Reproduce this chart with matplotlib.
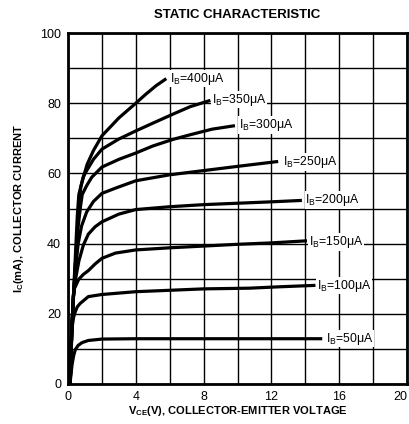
import matplotlib
matplotlib.use('Agg')
import matplotlib.pyplot as plt
from matplotlib.ticker import MultipleLocator

plt.rcParams['font.family'] = ['Liberation Sans', 'DejaVu Sans']
plt.rcParams['mathtext.fontset'] = 'custom'
plt.rcParams['mathtext.rm'] = 'Liberation Sans'
plt.rcParams['mathtext.bf'] = 'Liberation Sans:bold'
plt.rcParams['mathtext.it'] = 'Liberation Sans:italic'

# base currents (uA) and curves
ib_values = [400, 350, 300, 250, 200, 150, 100, 50]

vce_400 = [0.13, 0.22, 0.32, 0.45, 0.55, 0.64, 0.84, 1.13, 1.5, 2, 3, 4, 4.6, 5.2, 5.8]
ic_400 = [0, 15, 25, 38, 48, 54, 57.8, 62.6, 66.5, 70.7, 75.8, 80, 82.6, 85, 87]

vce_350 = [0.13, 0.22, 0.32, 0.45, 0.6, 0.75, 0.9, 1.03, 1.5, 2, 3, 4, 5, 6.2, 7.2, 8.4]
ic_350 = [0, 15, 25, 35, 48, 56, 59, 60.2, 64, 66.9, 69.8, 72.1, 74.3, 76.9, 79, 80.8]

vce_300 = [0.13, 0.22, 0.32, 0.45, 0.6, 0.75, 0.84, 1.1, 1.4, 2, 3, 4, 5, 6.2, 7.2, 8.5, 9.85]
ic_300 = [0, 15, 25, 35, 45, 51, 54, 56.5, 58.9, 61.8, 64, 65.8, 67.8, 69.7, 71, 72.6, 73.6]

vce_250 = [0.13, 0.22, 0.32, 0.45, 0.6, 0.8, 1.1, 1.5, 2, 2.8, 4, 6, 8, 10, 12.4]
ic_250 = [0, 15, 25, 33, 40, 45, 49, 52, 54.3, 55.8, 57.9, 59.6, 60.8, 62, 63.4]

vce_200 = [0.13, 0.22, 0.32, 0.45, 0.64, 0.9, 1.2, 1.6, 2, 3, 4, 6, 8, 10, 12, 13.8]
ic_200 = [0, 15, 25, 30, 35, 39.5, 42.7, 44.8, 46.2, 48.4, 49.7, 50.5, 51.1, 51.5, 51.9, 52.3]

vce_150 = [0.13, 0.2, 0.28, 0.36, 0.63, 0.9, 1.2, 1.6, 2, 2.8, 4, 6, 8, 10, 12, 14.1]
ic_150 = [0, 12, 22, 27, 29.8, 31.2, 32.3, 34.2, 35.8, 37.3, 38.2, 38.8, 39.3, 39.8, 40.2, 40.8]

vce_100 = [0.12, 0.18, 0.24, 0.33, 0.43, 0.55, 0.73, 1.2, 2, 4, 6, 8, 10.7, 12.5, 14.6]
ic_100 = [0, 8, 16, 19, 20.6, 22, 23, 24.9, 25.5, 26.3, 26.7, 27.1, 27.3, 27.7, 28.1]

vce_50 = [0.12, 0.18, 0.24, 0.33, 0.43, 0.6, 0.83, 1.2, 2, 4, 8, 12, 15]
ic_50 = [0, 3, 5.5, 8, 9.8, 11, 11.8, 12.4, 12.8, 12.9, 12.9, 12.9, 12.9]

curves_v = [vce_400, vce_350, vce_300, vce_250, vce_200, vce_150, vce_100, vce_50]
curves_i = [ic_400, ic_350, ic_300, ic_250, ic_200, ic_150, ic_100, ic_50]

# where each I_B label sits (V, mA)
label_x = [6.0, 8.5, 10.1, 12.7, 14.0, 14.2, 14.7, 15.2]
label_y = [87, 81, 73.8, 63.3, 52.4, 40.4, 28, 12.9]

x_ticks = [0, 4, 8, 12, 16, 20]
y_ticks = [0, 20, 40, 60, 80, 100]

fig = plt.figure(figsize=(4.09, 4.24), dpi=100)
ax = fig.add_axes([68 / 409, 40 / 424, 339 / 409, 351 / 424])

for v, i in zip(curves_v, curves_i):
    ax.plot(v, i, color='black', lw=2.3, solid_capstyle='butt', zorder=3)

for ib, lx, ly in zip(ib_values, label_x, label_y):
    ax.text(lx, ly, 'I$_\\mathregular{B}$=%dμA' % ib, fontsize=8.8, va='center', ha='left',
            zorder=4, bbox=dict(facecolor='white', edgecolor='none', pad=0.5))

ax.set_xlim(0, 20)
ax.set_ylim(0, 100)
ax.set_xticks(x_ticks)
ax.set_yticks(y_ticks)
ax.xaxis.set_minor_locator(MultipleLocator(2))
ax.yaxis.set_minor_locator(MultipleLocator(10))
ax.grid(which='both', color='black', lw=1.0)
ax.set_axisbelow(True)
ax.tick_params(which='both', length=0, labelsize=9, pad=5)
for s in ax.spines.values():
    s.set_linewidth(2)

# last x label is right at the figure edge, keep it inside
ax.get_xticklabels()[-1].set_ha('right')

ax.set_title('STATIC CHARACTERISTIC', fontsize=9.5, fontweight='bold', pad=11)
ax.set_xlabel('V$_\\mathbf{CE}$(V), COLLECTOR-EMITTER VOLTAGE', fontsize=8, fontweight='bold', labelpad=1)
ax.set_ylabel('I$_\\mathbf{C}$(mA), COLLECTOR CURRENT', fontsize=8, fontweight='bold', labelpad=10)

fig.savefig('out.png', dpi=100)
